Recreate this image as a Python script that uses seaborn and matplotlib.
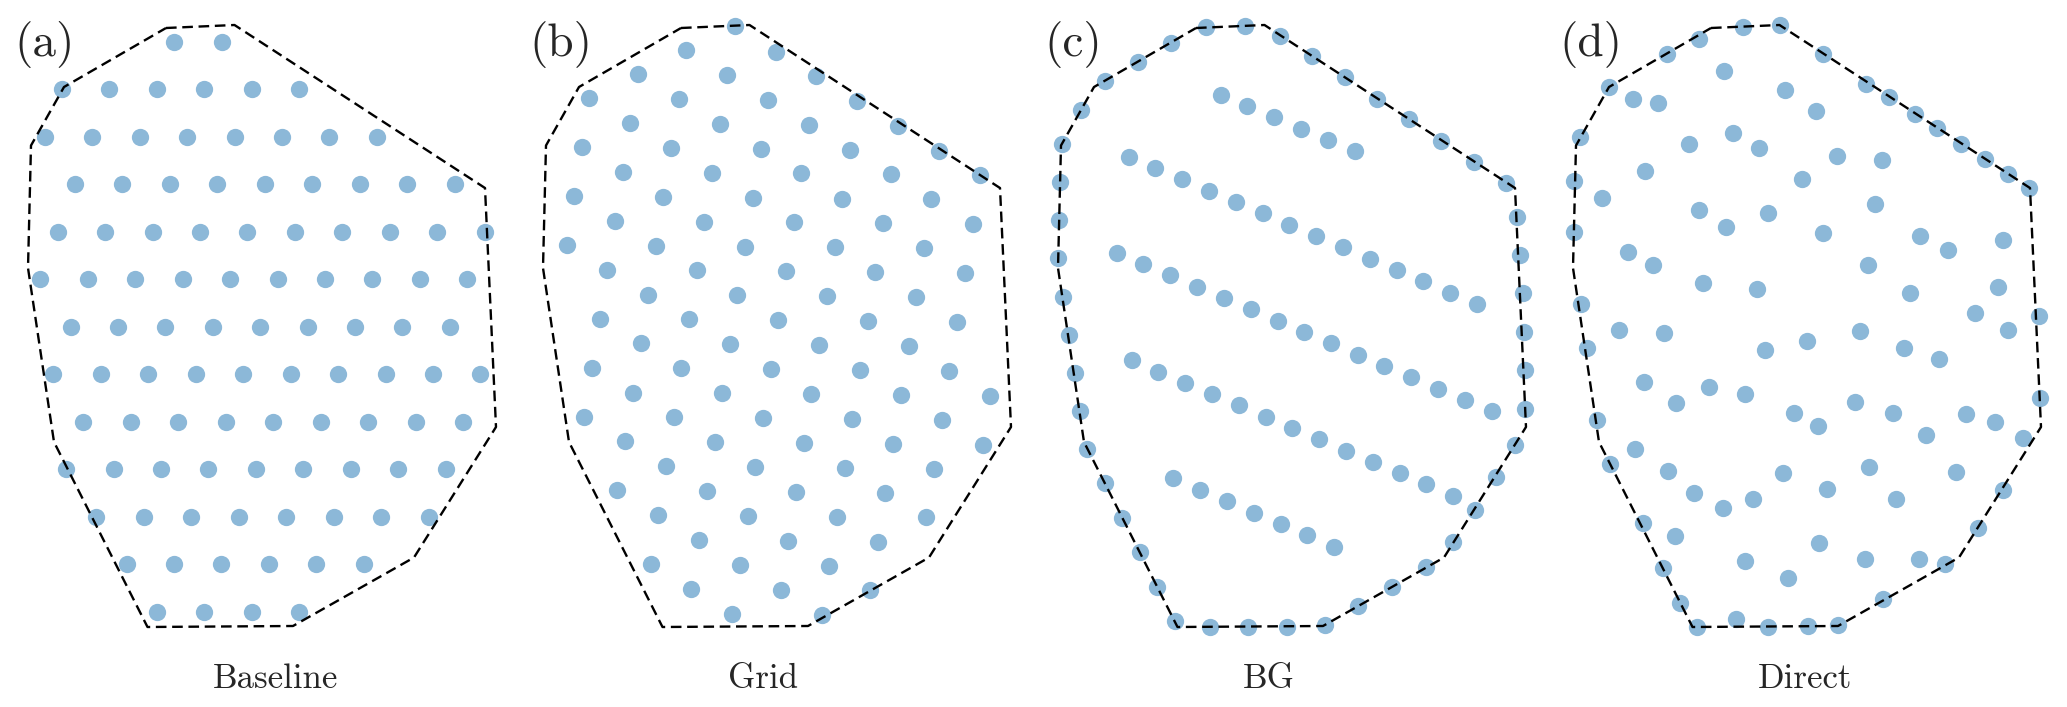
import matplotlib
matplotlib.use("Agg")
import matplotlib.pyplot as plt
import seaborn as sns
import pandas as pd

sns.set_theme(style="white")
plt.rcParams["font.family"] = ["cmr10", "DejaVu Serif"]

# ---- shared boundary polygon (panel-local pixel frame, y downward) ----
POLY_X = [166, 234.5, 485, 496, 414, 293, 147.5, 54, 28, 31, 64, 166]
POLY_Y = [28, 25, 188, 427, 557.5, 626, 627, 442, 268, 145.5, 87, 28]

# ---- panel (a) Baseline: rows of points ----
A_ROWS_Y = [41.7, 89.3, 136.7, 184, 231.7, 279, 326.7, 374.3, 421.7, 469, 516.7, 564, 611.7]
A_ROWS_X = [
    [174, 221.7],
    [61.7, 109.3, 156.7, 204.3, 251.7, 299.3],
    [45, 92.3, 139.7, 187, 234.7, 282, 329.3, 377],
    [75, 122.3, 169.7, 217.3, 264.7, 312.3, 359.7, 407, 454.7],
    [57.7, 105, 152.7, 200, 247.3, 295, 342.3, 389.7, 437.3, 484.7],
    [40.3, 88, 135.3, 182.7, 230.3, 277.7, 325, 372.3, 420, 467.3],
    [70.7, 118, 165.3, 212.7, 260.3, 307.7, 355, 402.3, 450],
    [53.3, 100.7, 148.3, 195.7, 243.3, 290.7, 338, 385.7, 433, 480.3],
    [83.3, 131, 178.3, 225.7, 273.3, 320.7, 368, 415.7, 463],
    [66.3, 113.7, 161, 208.3, 256, 303.3, 351, 398.3, 445.7],
    [96.3, 144, 191.3, 239, 286.3, 333.7, 381, 428.7],
    [126.7, 174, 221.3, 269, 316.3, 363.7],
    [156.7, 204.3, 251.7, 299],
]

# ---- panel (b) Grid ----
B_X = [220.3, 171.3, 260.7, 122.7, 212, 301.3, 74.3, 164, 253.3, 342.3,
       115.3, 204.7, 294, 383.3, 66.7, 156.3, 245.7, 334.7, 424.3,
       107.7, 197, 286.3, 375.7, 465.3, 59, 148.3, 237.7, 327, 416.3,
       100, 189.3, 278.7, 368, 457.7, 51.7, 140.7, 230.3, 319.7, 409,
       92.3, 181.7, 271, 360.3, 450, 133.3, 222.3, 312, 401.3,
       84.7, 174, 263.3, 352.7, 442.3, 125.7, 215, 304, 393.7,
       77, 166.3, 255.7, 345, 434.3, 117.7, 207, 296.3, 386, 475.3,
       69.3, 158.7, 248, 337.3, 426.7, 110.3, 199.7, 288.7, 378.3, 467.7,
       151, 240.3, 329.7, 419, 102.3, 191.7, 281, 370.3,
       143.3, 232.7, 322, 411.3, 184, 273.3, 362.7,
       135.7, 225, 314.3, 176.3, 265.7, 355, 217.3, 306.7]
B_Y = [26, 50, 51.7, 74.3, 75.3, 76, 98.3, 99, 100, 101,
       123.3, 124, 125, 125.7, 147, 148, 148.7, 149.7, 150.7,
       172, 172.7, 173.3, 174.3, 175, 196, 197, 197.7, 198.7, 199.3,
       220.7, 221.7, 222.3, 223.3, 224, 245, 246, 246.7, 247.3, 248.3,
       269.7, 270.3, 271.3, 272, 273, 294.7, 295.3, 296, 297,
       318.7, 319.3, 320.3, 321, 322, 343.3, 344, 345, 345.7,
       367.7, 368.3, 369.3, 370, 371, 392.7, 393.3, 394, 395, 395.7,
       416.7, 417.3, 418.3, 419, 420, 441.3, 442, 443, 443.7, 444.7,
       466, 467, 467.7, 468.7, 490.3, 491, 492, 492.7,
       515, 515.7, 516.7, 517.3, 540, 541, 541.7,
       564, 564.7, 565.7, 588.7, 589.7, 590.3, 613.7, 614.7]

# ---- panel (c) BG ----
C_X = [175.7, 214.7, 250, 282.3, 314.7, 346.7, 379, 411.3, 444, 476.3,
       486.7, 490, 492.7, 494, 494.7, 495.3, 485.3, 465.7, 444.7, 423.3,
       395.7, 361.7, 328.3, 295, 256.7, 218.3, 179.7, 145, 127.3, 110,
       92.3, 75, 57.3, 50, 44.7, 39, 33, 28, 28.7, 29.7, 31.7, 51.3, 74.7, 108, 141.3,
       190.7, 217.3, 244, 271, 298, 324.7,
       98.7, 125.3, 152, 178.7, 205.7, 232.7, 259.3, 286, 312.7, 339.7, 366.7, 393.3, 420, 447,
       86.7, 113.3, 140.3, 167, 194, 220.7, 247.7, 274.3, 301, 327.7, 354.3, 381, 408, 435, 461.7,
       101.7, 128.3, 155, 182, 208.7, 235.7, 262.3, 289, 316, 342.7, 369.7, 396.3, 423.3,
       143.3, 170, 196.7, 223.7, 250.7, 277.3, 304]
C_Y = [26.7, 26, 35.7, 56, 77.3, 98.7, 119.3, 140.7, 161.7, 182.7,
       216.7, 255, 293.3, 331.7, 370, 409, 445, 477.3, 510.3, 542.3,
       567.3, 586.7, 605.7, 625, 626.7, 627.3, 626.7, 621, 586.7, 552,
       517.7, 483.3, 449, 411.3, 373.3, 335, 296.7, 258.3, 220, 181.7, 144, 110, 81, 61.7, 42.7,
       95, 106, 117.3, 128.7, 140, 151.3,
       156.7, 168, 179.3, 190.7, 202, 213.3, 224.7, 236, 247.3, 258.7, 270, 281, 292.7, 304,
       252.7, 264, 275.3, 286.7, 298, 309.3, 320.7, 332, 343.3, 355, 366, 377.3, 388.7, 400, 411.3,
       360, 371.7, 382.7, 394, 405.3, 416.7, 428, 439.3, 450.7, 462, 473.3, 484.3, 495.7,
       478.3, 490, 501.3, 512.7, 524, 535.3, 546.7]

# ---- panel (d) Direct ----
D_X = [198.3, 235, 154, 121.7, 278.3, 179.3, 64.3, 240.3, 321, 344,
       88.3, 113.3, 271, 370.3, 391.7, 35, 188, 144.3, 213.7, 416.3,
       291.7, 336.7, 440.3, 99.7, 463, 256.7, 484.3, 29.3, 57, 330.3,
       153.7, 223, 180.7, 28.7, 278.3, 375, 458.3, 83.3, 402.7, 107.7,
       323.3, 157.7, 212.3, 452.7, 365, 35.7, 429.7, 493.7, 74.3, 118.7,
       314.7, 463, 261.7, 220, 359.3, 41.7, 394.3,
       98.7, 164, 200, 131, 310.3, 495.3, 248.7, 348, 420.7, 450,
       51.7, 272.7, 381, 478.3, 90, 65, 122.7, 324, 237.7, 410.7,
       282.3, 458, 148.7, 208.3, 351, 177.7, 97.7, 432.7, 130, 274,
       199.7, 320.3, 373.7, 399.7, 118.3, 243.3, 338.3, 135, 190.7,
       151.7, 223, 263.3, 293.3]
D_Y = [26.7, 25, 39.3, 54, 54, 70.7, 86.7, 90.3, 84, 96.7,
       98.7, 103.3, 110.7, 114, 128, 137.3, 133.3, 144, 147.7, 144,
       156.3, 160, 159.3, 170.7, 173.7, 179.3, 188.3, 181.3, 198.3, 204,
       209.7, 213.3, 226.7, 231.7, 232.7, 236.3, 239.7, 251.7, 250, 265,
       265.3, 283.3, 289.3, 287, 293.3, 304, 312.7, 316.3, 330.3, 333.3,
       330.7, 330, 341, 349.7, 347.7, 348.3, 359,
       382, 387.3, 394, 403.3, 401.7, 398.3, 413, 413, 414.3, 422,
       420.3, 426, 435.3, 437.7, 449, 464.3, 471.3, 467.3, 472.7, 472.3,
       489, 490, 493.3, 499, 498.7, 507.7, 523.3, 527.7, 536, 543,
       561, 558.7, 558.7, 564.3, 568.3, 577.7, 599.3, 602.7, 618.7,
       626.7, 627.3, 626, 625]

PANEL_TAGS = ["(a)", "(b)", "(c)", "(d)"]
PANEL_NAMES = ["Baseline", "Grid", "BG", "Direct"]

# build tables
a_x, a_y = [], []
for ry, rxs in zip(A_ROWS_Y, A_ROWS_X):
    for rx in rxs:
        a_x.append(rx)
        a_y.append(ry)
panels = [
    pd.DataFrame({"x": a_x, "y": a_y}),
    pd.DataFrame({"x": B_X, "y": B_Y}),
    pd.DataFrame({"x": C_X, "y": C_Y}),
    pd.DataFrame({"x": D_X, "y": D_Y}),
]
poly = pd.DataFrame({"x": POLY_X, "y": POLY_Y})

W, H = 2067, 707
PW = 515
origins = [0, 515, 1030, 1545]

fig = plt.figure(figsize=(W / 100, H / 100), dpi=100)
for i, df in enumerate(panels):
    ax = fig.add_axes([origins[i] / W, 0, PW / W, 1])
    sns.scatterplot(data=df, x="x", y="y", ax=ax, s=155, color="#8cb8d8",
                    linewidth=0, zorder=2)
    sns.lineplot(data=poly, x="x", y="y", ax=ax, sort=False, estimator=None,
                 color="black", linewidth=1.7, linestyle=(0, (4.5, 2.4)), zorder=3)
    ax.set_xlim(0, PW)
    ax.set_ylim(H, 0)
    ax.set_axis_off()
    ax.text(14, 44, PANEL_TAGS[i], fontsize=34, ha="left", va="center")
    ax.text(213, 688, PANEL_NAMES[i], fontsize=25, ha="left", va="baseline")

fig.savefig("out.png", dpi=100)
